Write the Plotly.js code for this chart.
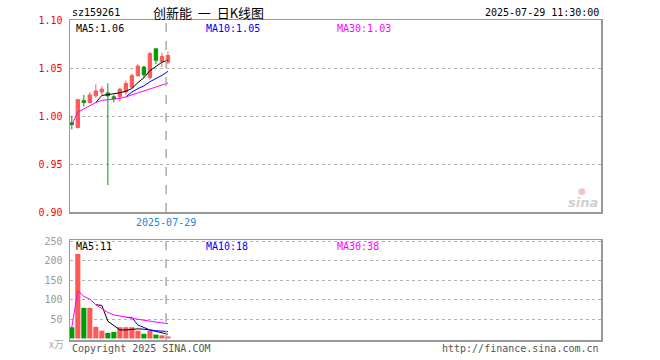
<!DOCTYPE html>
<html>
<head>
<meta charset="utf-8">
<script src="https://cdn.plot.ly/plotly-3.0.1.min.js"></script>
<style>html,body{margin:0;padding:0;background:#fff;}#chart{width:660px;height:360px;}</style>
</head>
<body>
<div id="chart"></div>
<script>
// ---- data ----
const code = 'sz159261';
const chartTitle = '创新能\u00a0\u00a0一\u00a0\u00a0日K线图';
const stamp = '2025-07-29 11:30:00';
const dates = ['2025-07-07','2025-07-08','2025-07-09','2025-07-10','2025-07-11','2025-07-14','2025-07-15','2025-07-16','2025-07-17','2025-07-18','2025-07-21','2025-07-22','2025-07-23','2025-07-24','2025-07-25','2025-07-28','2025-07-29'];
const openP  = [0.993,0.988,1.016,1.014,1.021,1.025,1.024,1.020,1.020,1.025,1.030,1.042,1.051,1.040,1.070,1.057,1.056];
const highP  = [1.000,1.018,1.022,1.025,1.033,1.031,1.034,1.022,1.029,1.037,1.044,1.054,1.052,1.067,1.070,1.066,1.067];
const lowP   = [0.986,0.987,1.010,1.013,1.019,1.022,0.928,1.014,1.015,1.022,1.029,1.041,1.040,1.038,1.054,1.051,1.054];
const closeP = [0.991,1.017,1.014,1.022,1.026,1.028,1.021,1.018,1.028,1.034,1.042,1.052,1.043,1.065,1.058,1.062,1.063];
const volume = [29,218,79,79,30,20,14,17,29,29,29,20,12,20,10,8,5];
const priceTicks = [0.90,0.95,1.00,1.05,1.10];
const priceTickText = ['0.90','0.95','1.00','1.05','1.10'];
const volTicks = [50,100,150,200,250];
const volTickText = ['50','100','150','200','250'];

// ---- helpers ----
function ma(arr, n, expanding){
  return arr.map((v,i)=>{
    if(i < n-1 && !expanding) return null;
    const s = Math.max(0, i-n+1);
    const w = arr.slice(s, i+1);
    return w.reduce((a,b)=>a+b,0)/w.length;
  });
}
const idx = dates.map((d,i)=>i);
const RED = '#ff5858', GREEN = '#009c00';
const barColors = closeP.map((c,i)=> c >= openP[i] ? RED : GREEN);
const pMA5 = ma(closeP,5,false), pMA10 = ma(closeP,10,false), pMA30 = ma(closeP,30,true);
const vMA5 = ma(volume,5,false), vMA10 = ma(volume,10,false), vMA30 = ma(volume,30,true);
const last = a => a[a.length-1];
const crossIdx = idx.length - 1 - 0.3;
const mono = 'DejaVu Sans Mono, Liberation Mono, monospace';
const xRange = [-0.3, 88.08];

const traces = [
  {type:'candlestick', x:idx, open:openP, high:highP, low:lowP, close:closeP, xaxis:'x', yaxis:'y',
   increasing:{line:{color:RED,width:1}, fillcolor:RED},
   decreasing:{line:{color:GREEN,width:1}, fillcolor:GREEN},
   whiskerwidth:0, hoverinfo:'skip', showlegend:false},
  {type:'scatter', mode:'lines', x:idx, y:pMA5, line:{color:'#000',width:1}, xaxis:'x', yaxis:'y', hoverinfo:'skip'},
  {type:'scatter', mode:'lines', x:idx, y:pMA10, line:{color:'#0000ff',width:1}, xaxis:'x', yaxis:'y', hoverinfo:'skip'},
  {type:'scatter', mode:'lines', x:idx, y:pMA30, line:{color:'#ff00ff',width:1}, xaxis:'x', yaxis:'y', hoverinfo:'skip'},
  {type:'bar', x:idx, y:volume, marker:{color:barColors, line:{width:0}}, xaxis:'x2', yaxis:'y2', hoverinfo:'skip'},
  {type:'scatter', mode:'lines', x:idx, y:vMA5, line:{color:'#000',width:1}, xaxis:'x2', yaxis:'y2', hoverinfo:'skip'},
  {type:'scatter', mode:'lines', x:idx, y:vMA10, line:{color:'#0000ff',width:1}, xaxis:'x2', yaxis:'y2', hoverinfo:'skip'},
  {type:'scatter', mode:'lines', x:idx, y:vMA30, line:{color:'#ff00ff',width:1}, xaxis:'x2', yaxis:'y2', hoverinfo:'skip'}
];

function ann(text, x, y, xanchor, color, size, family, extra){
  return Object.assign({text:text, x:x, y:y, xref:'paper', yref:'paper', xanchor:xanchor, yanchor:'middle',
    showarrow:false, font:{family:family||mono, size:size||10, color:color||'#000'}}, extra||{});
}
const px = v => (v-70)/531;
const py = v => (340-v)/320;

const layout = {
  width:660, height:360,
  margin:{l:70, r:59, t:20, b:20, pad:0},
  paper_bgcolor:'#fff', plot_bgcolor:'#fff',
  showlegend:false, bargap:0.15, boxgap:0.2,
  font:{family:mono, size:10},
  xaxis:{domain:[0,1], anchor:'y', range:xRange, showline:true, mirror:true, linecolor:'#999', linewidth:1.5,
    zeroline:false, showgrid:false, ticks:'', tickvals:[crossIdx], ticktext:[last(dates)],
    tickfont:{family:mono, size:10, color:'#1a88d8'}, rangeslider:{visible:false}, fixedrange:true},
  yaxis:{domain:[0.4,1], anchor:'x', range:[0.90,1.10], tickvals:priceTicks, ticktext:priceTickText,
    tickfont:{family:mono, size:10, color:'#ff0000'}, showline:true, mirror:true, linecolor:'#999', linewidth:1.5,
    showgrid:true, gridcolor:'#b4b4b4', griddash:'dot', gridwidth:1, zeroline:false, ticks:'', ticklabelstandoff:4},
  xaxis2:{domain:[0,1], anchor:'y2', range:xRange, showline:true, mirror:true, linecolor:'#999', linewidth:1.5,
    zeroline:false, showgrid:false, showticklabels:false, ticks:''},
  yaxis2:{domain:[0,0.3125], anchor:'x2', range:[-4,254], tickvals:volTicks, ticktext:volTickText,
    tickfont:{family:mono, size:10, color:'#999'}, showline:true, mirror:true, linecolor:'#999', linewidth:1.5,
    showgrid:true, gridcolor:'#b4b4b4', griddash:'dot', gridwidth:1, zeroline:false, ticks:'', ticklabelstandoff:4},
  shapes:[
    {type:'line', xref:'x', yref:'y domain', x0:crossIdx, x1:crossIdx, y0:0, y1:1, line:{color:'#aaa', width:1.5, dash:'dash'}},
    {type:'line', xref:'x2', yref:'y2 domain', x0:crossIdx, x1:crossIdx, y0:0, y1:1, line:{color:'#aaa', width:1.5, dash:'dash'}}
  ],
  annotations:[
    ann(code, 0, py(12), 'left', '#000', 10),
    ann(chartTitle, px(208.5), py(12), 'center', '#000', 13, 'Noto Sans CJK SC'),
    ann(stamp, 1, py(12), 'right', '#000', 10),
    ann('MA5:' + last(pMA5).toFixed(2), px(74), py(28), 'left', '#000', 10),
    ann('MA10:' + last(pMA10).toFixed(2), px(204), py(28), 'left', '#0000ff', 10),
    ann('MA30:' + last(pMA30).toFixed(2), px(335), py(28), 'left', '#ff00ff', 10),
    ann('MA5:' + Math.round(last(vMA5)), px(74), py(246), 'left', '#000', 10),
    ann('MA10:' + Math.round(last(vMA10)), px(204), py(246), 'left', '#0000ff', 10),
    ann('MA30:' + Math.round(last(vMA30)), px(335), py(246), 'left', '#ff00ff', 10),
    ann('x万', px(66), py(343), 'right', '#aaa', 10, 'Noto Sans CJK SC'),
    ann('Copyright 2025 SINA.COM', 0, py(348), 'left', '#555', 10),
    ann('http://finance.sina.com.cn', 1, py(348), 'right', '#555', 10),
    ann('<b><i>sina</i></b>', px(583), py(202), 'center', '#cfcfcf', 13, 'DejaVu Sans'),
    ann('●', px(582), py(191), 'center', '#f4c4c4', 9, 'DejaVu Sans')
  ]
};

Plotly.newPlot('chart', traces, layout, {staticPlot:true, displayModeBar:false});
</script>
</body>
</html>
